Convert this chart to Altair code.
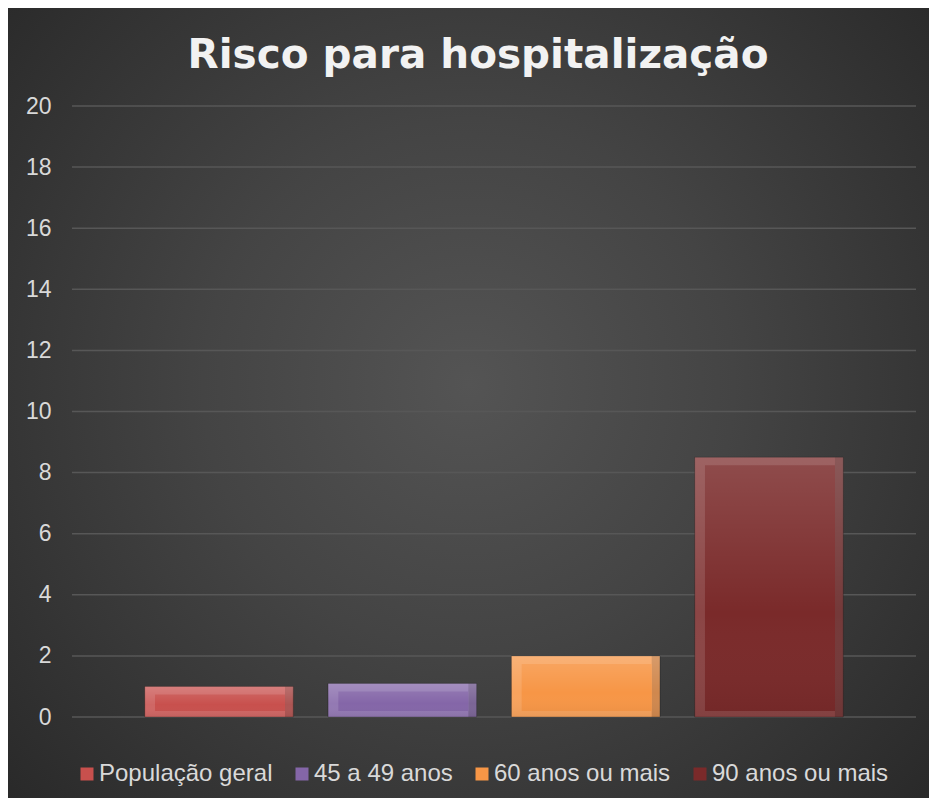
import altair as alt
import pandas as pd

categories = ["População geral", "45 a 49 anos", "60 anos ou mais", "90 anos ou mais"]
values = [1.0, 1.1, 2.0, 8.5]
colors = ["#C8504D", "#8466A8", "#F79646", "#7A2A2A"]
y_ticks = list(range(0, 21, 2))

df = pd.DataFrame({"serie": categories, "valor": values})
grid_df = pd.DataFrame({"valor": y_ticks})

W, H = 844, 611
PAD = {"left": 64, "top": 98, "right": 13, "bottom": 81}

color_scale = alt.Scale(domain=categories, range=colors)
x_enc = alt.X("serie:N", sort=categories, axis=None,
              scale=alt.Scale(paddingInner=0.19, paddingOuter=0.397))
y_axis = alt.Axis(values=y_ticks, title=None, ticks=False, domain=False, grid=False,
                  labelFontSize=23, labelFont="Liberation Sans", zindex=1,
                  labelColor="#d9d9d9", labelPadding=21)
y_enc = alt.Y("valor:Q", scale=alt.Scale(domain=[0, 20], nice=False), axis=y_axis)

bg = alt.Chart(pd.DataFrame({"k": [0]})).mark_rect(
    fill=alt.RadialGradient(
        gradient="radial",
        stops=[alt.GradientStop(color="#545454", offset=0),
               alt.GradientStop(color="#444444", offset=0.4),
               alt.GradientStop(color="#262626", offset=1)],
        x1=0.5, y1=0.48, r1=0, x2=0.5, y2=0.48, r2=0.72)
).encode(x=alt.value(-PAD["left"]), x2=alt.value(W + PAD["right"]),
         y=alt.value(-PAD["top"]), y2=alt.value(H + PAD["bottom"]))

grid = alt.Chart(grid_df).mark_rule(color="#575757", strokeWidth=1.5).encode(y=y_enc)

base = alt.Chart(df)
y2_zero = alt.datum(0)

outer = base.mark_bar(stroke="#000000", strokeOpacity=0.3, strokeWidth=1).encode(
    x=x_enc, y=y_enc,
    color=alt.Color("serie:N", scale=color_scale, sort=categories,
                    legend=alt.Legend(orient="none", legendX=3, legendY=656,
                                      direction="horizontal", columns=4, title=None,
                                      symbolType="square", symbolSize=169,
                                      symbolStrokeWidth=0, labelFontSize=24,
                                      labelFont="Liberation Sans", labelColor="#d9d9d9",
                                      labelOffset=0, columnPadding=17, padding=0,
                                      labelLimit=0)))

rim_light = base.mark_bar(color="#ffffff", opacity=0.13).encode(x=x_enc, y=y_enc)
rim_dark = base.mark_bar(color="#000000", opacity=0.16, size=8, xOffset=70).encode(x=x_enc, y=y_enc)
inner = base.mark_bar(size=130, xOffset=1, yOffset=8, y2Offset=-6).encode(
    x=x_enc, y=y_enc, y2=y2_zero,
    color=alt.Color("serie:N", scale=color_scale, sort=categories))
shade = base.mark_bar(
    fill=alt.LinearGradient(
        gradient="linear",
        stops=[alt.GradientStop(color="rgba(255,255,255,0.16)", offset=0),
               alt.GradientStop(color="rgba(255,255,255,0)", offset=0.6),
               alt.GradientStop(color="rgba(0,0,0,0.06)", offset=1)],
        x1=0, y1=0, x2=0, y2=1)
).encode(x=x_enc, y=y_enc)

chart = alt.layer(bg, grid, outer, rim_light, rim_dark, inner, shade).properties(
    width=W, height=H,
    autosize=alt.AutoSizeParams(type="none"),
    padding=PAD,
    background="#2b2b2b",
    title=alt.TitleParams(text="Risco para hospitalização", font="DejaVu Sans",
                          fontSize=40.5, fontWeight="bold", color="#f2f2f2",
                          anchor="middle", frame="group", dx=-16, dy=100, offset=0,
                          baseline="alphabetic"),
).configure_view(strokeWidth=0)

chart.save("out.html", embed_options={"renderer": "svg", "actions": False})
